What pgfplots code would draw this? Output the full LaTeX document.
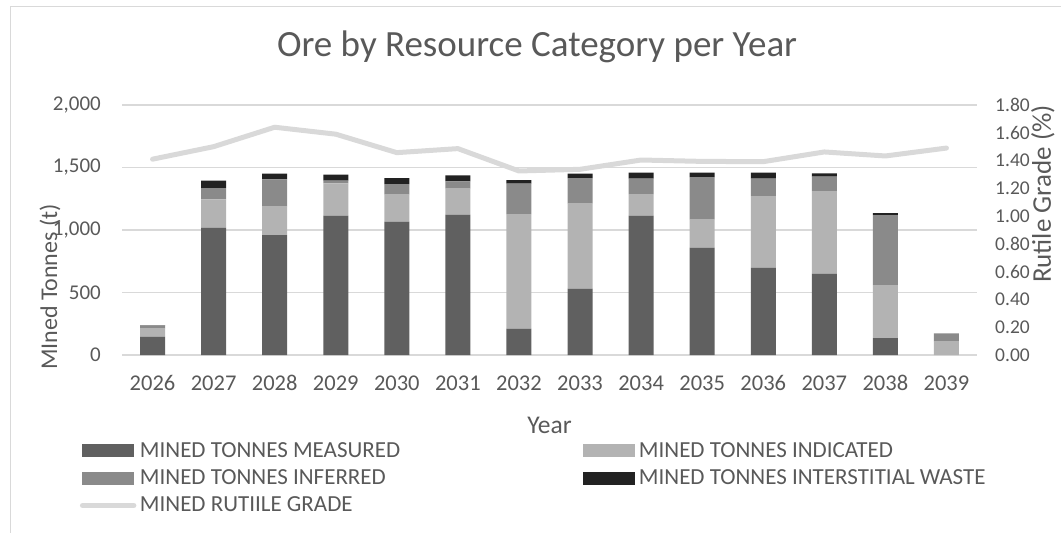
\documentclass[border=0pt]{standalone}
\usepackage{pgfplots}
\pgfplotsset{compat=1.18}
\usepackage{pgfplotstable}
\usepackage{fontspec}
\setmainfont{Carlito}
\definecolor{txt}{HTML}{595959}
\definecolor{meas}{HTML}{606060}
\definecolor{ind}{HTML}{B3B3B3}
\definecolor{inf}{HTML}{8A8A8A}
\definecolor{wst}{HTML}{222222}
\definecolor{grd}{HTML}{D9D9D9}
\definecolor{gridc}{HTML}{D9D9D9}

\pgfplotstableread{
x meas ind inf wst grade
0 147 64 26 3 1.41
1 1019 226 91 59 1.50
2 960 227 218 46 1.64
3 1115 258 22 48 1.59
4 1067 216 85 48 1.457
5 1123 208 58 48 1.486
6 211 917 243 29 1.325
7 531 680 205 35 1.337
8 1115 173 123 48 1.404
9 859 224 341 35 1.394
10 699 573 139 48 1.392
11 651 661 115 26 1.462
12 136 424 560 16 1.433
13 0 107 66 0 1.49
}\data

\begin{document}
\begin{tikzpicture}
\useasboundingbox (0,0) rectangle (1061pt,-533pt);
\draw[color=gridc, line width=1pt] (10pt,-533pt) -- (10pt,-6pt) -- (1061pt,-6pt);
\begin{axis}[
  at={(122pt,-355pt)}, anchor=south west,
  scale only axis, width=855pt, height=250pt,
  ybar stacked, bar width=25pt,
  xmin=-0.5, xmax=13.5, ymin=0, ymax=2000,
  xtick={0,1,2,3,4,5,6,7,8,9,10,11,12,13},
  xticklabels={2026,2027,2028,2029,2030,2031,2032,2033,2034,2035,2036,2037,2038,2039},
  ytick={0,500,1000,1500,2000},
  /pgf/number format/assume math mode=true,
  /pgf/number format/1000 sep={,},
  scaled y ticks=false,
  axis line style={draw=none},
  major tick length=0pt,
  ymajorgrids, major grid style={color=gridc, line width=1.3pt},
  tick label style={color=txt},
  xticklabel style={font=\fontsize{22.5}{26}\selectfont, anchor=base, yshift=-35pt},
  yticklabel style={font=\fontsize{21}{25}\selectfont, anchor=east, inner sep=0pt, xshift=-21pt},
  title={Ore by Resource Category per Year},
  title style={font=\fontsize{37}{42}\selectfont, color=txt, at={(axis description cs:0.4854,1.169)}, anchor=base, yshift=0pt},
  xlabel={Year},
  xlabel style={font=\fontsize{25.5}{30}\selectfont, color=txt, at={(axis description cs:0.5,-0.312)}, anchor=base},
  ylabel={MIned Tonnes (t)},
  ylabel style={font=\fontsize{24}{28}\selectfont, color=txt, at={(axis description cs:-0.0842,0.272)}, anchor=center},
  legend columns=2,
  legend cell align=left,
  legend style={draw=none, fill=none, at={(axis description cs:-0.0492,-0.328)}, anchor=north west,
    inner sep=0pt, outer sep=0pt, row sep=0pt, column sep=3.5pt,
    font=\fontsize{23}{27}\selectfont, text=txt,
    nodes={inner sep=0pt, text height=20pt, text depth=7.4pt}},
  legend image code/.code={\fill[#1] (0pt,-6.5pt) rectangle (52pt,6.5pt);},
]
\addplot[fill=meas, draw=none] table[x=x,y=meas]{\data};
\addlegendentry{\makebox[440pt][l]{MINED TONNES MEASURED}}
\addplot[fill=ind, draw=none] table[x=x,y=ind]{\data};
\addlegendentry{MINED TONNES INDICATED}
\addplot[fill=inf, draw=none] table[x=x,y=inf]{\data};
\addlegendentry{\makebox[440pt][l]{MINED TONNES INFERRED}}
\addplot[fill=wst, draw=none] table[x=x,y=wst]{\data};
\addlegendentry{MINED TONNES INTERSTITIAL WASTE}
\addlegendimage{legend image code/.code={\draw[color=grd, line width=5.5pt, line cap=round] (1pt,0pt) -- (52pt,0pt);}}
\addlegendentry{MINED RUTIILE GRADE}
\node[rotate=90, font=\fontsize{23.5}{28}\selectfont, color=txt] at (axis description cs:-0.1029,0.812) {x 10000};
\end{axis}
\begin{axis}[
  at={(122pt,-355pt)}, anchor=south west,
  scale only axis, width=855pt, height=250pt,
  xmin=-0.5, xmax=13.5, ymin=0, ymax=1.8,
  axis x line=none, axis y line*=right,
  y axis line style={draw=none},
  major tick length=0pt,
  ytick={0,0.2,0.4,0.6,0.8,1.0,1.2,1.4,1.6,1.8},
  /pgf/number format/assume math mode=true,
  yticklabel={\pgfmathprintnumber[fixed, fixed zerofill, precision=2]{\tick}},
  tick label style={font=\fontsize{19.5}{23}\selectfont, color=txt},
  yticklabel style={anchor=west, inner sep=0pt, xshift=18pt},
  ylabel={Rutile Grade (\%)},
  ylabel style={font=\fontsize{27}{32}\selectfont, color=txt, at={(axis description cs:1.077,0.644)}, anchor=center, rotate=0},
]
\addplot[color=grd, line width=5pt, line join=round, line cap=round] table[x=x,y=grade]{\data};
\end{axis}
\end{tikzpicture}
\end{document}
